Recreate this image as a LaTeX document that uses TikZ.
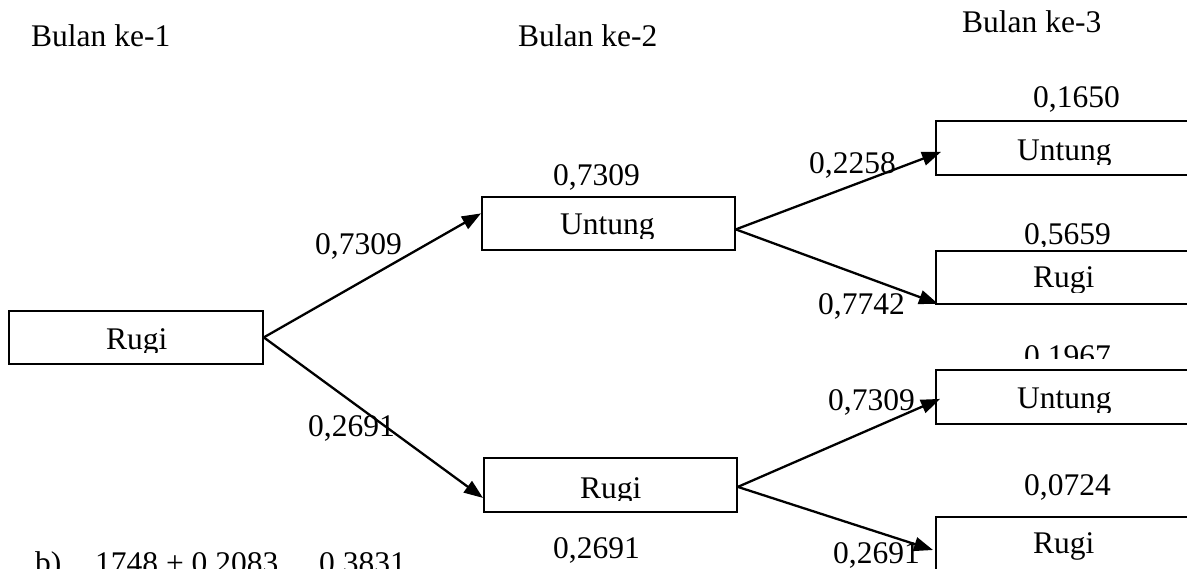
\documentclass[tikz,border=0pt]{standalone}
\usepackage{fontspec}
\setmainfont{Liberation Serif}
\usetikzlibrary{arrows.meta}
\begin{document}
\begin{tikzpicture}[x=1pt,y=-1pt,
  box/.style={draw, line width=1.8pt, inner sep=0pt, anchor=north west},
  txt/.style={anchor=base west, inner sep=0pt, font=\fontsize{31.5}{38}\selectfont},
  branch/.style={line width=2.3pt, -{Triangle[length=19pt,width=14pt]}}]
\path[use as bounding box] (0,0) rectangle (1187,569);
\clip (0,0) rectangle (1187,569);

% column headings
\node[txt] (h1) at (31,47) {Bulan ke-1};
\node[txt] (h2) at (518,47) {Bulan ke-2};
\node[txt] (h3) at (962,33) {Bulan ke-3};

% boxes of the tree
\node[box, minimum width=254pt, minimum height=53pt] (l)  at (8,310) {};
\node[box, minimum width=253pt, minimum height=53pt] (u2) at (481,196) {};
\node[box, minimum width=253pt, minimum height=54pt] (r2) at (483,457) {};
\node[box, minimum width=300pt, minimum height=54pt] (u3) at (935,120) {};
\node[box, minimum width=300pt, minimum height=53pt] (r3) at (935,250) {};
\node[box, minimum width=300pt, minimum height=54pt] (u4) at (935,369) {};
\node[box, minimum width=300pt, minimum height=60pt] (r4) at (935,516) {};

% box texts, cut off by the inner margin of each box
\begin{scope}
  \clip (l.north west) rectangle ([yshift=12pt]l.south east);
  \node[txt] (tl) at (106,350) {Rugi};
\end{scope}
\begin{scope}
  \clip (u2.north west) rectangle ([yshift=12pt]u2.south east);
  \node[txt] (tu2) at (560,235) {Untung};
\end{scope}
\begin{scope}
  \clip (r2.north west) rectangle ([yshift=12pt]r2.south east);
  \node[txt] (tr2) at (580,498) {Rugi};
\end{scope}
\begin{scope}
  \clip (u3.north west) rectangle ([yshift=11.5pt]u3.south east);
  \node[txt] (tu3) at (1017,161) {Untung};
\end{scope}
\begin{scope}
  \clip (r3.north west) rectangle ([yshift=12pt]r3.south east);
  \node[txt] (tr3) at (1033,288) {Rugi};
\end{scope}
\begin{scope}
  \clip (u4.north west) rectangle ([yshift=12pt]u4.south east);
  \node[txt] (tu4) at (1017,409) {Untung};
\end{scope}
\begin{scope}
  \clip (r4.north west) rectangle (1187,569);
  \node[txt] (tr4) at (1033,553) {Rugi};
\end{scope}

% probabilities written above or below the boxes
\node[txt] (pu2) at (553,186) {0,7309};
\node[txt] (pr2) at (553,558) {0,2691};
\node[txt] (pu3) at (1033,108) {0,1650};
\begin{scope}
  \clip (1000,200) rectangle (1187,247);
  \node[txt] (pr3) at (1024,245) {0,5659};
\end{scope}
\begin{scope}
  \clip (1000,330) rectangle (1187,359);
  \node[txt] (pu4) at (1024,367) {0,1967};
\end{scope}
\node[txt] (pr4) at (1024,495) {0,0724};

% branch probabilities
\node[txt] (a1) at (315,255) {0,7309};
\node[txt] (a2) at (308,436) {0,2691};
\node[txt] (a3) at (809,174) {0,2258};
\node[txt] (a4) at (818,315) {0,7742};
\node[txt] (a5) at (828,411) {0,7309};
\node[txt] (a6) at (833,563) {0,2691};

% branches
\draw[branch] (l.east) -- ([yshift=10pt]u2.west);
\draw[branch] (l.east) -- ([yshift=-13pt]r2.west);
\draw[branch] ([yshift=-6pt]u2.east) -- ([xshift=6pt,yshift=-4pt]u3.west);
\draw[branch] ([yshift=-6pt]u2.east) -- ([xshift=3pt,yshift=1pt]r3.south west);
\draw[branch] ([yshift=-2pt]r2.east) -- ([xshift=5pt,yshift=-2pt]u4.west);
\draw[branch] ([yshift=-2pt]r2.east) -- ([xshift=-2pt,yshift=-34pt]r4.north west);

% working line below the tree
\node[txt] (w1) at (35,573) {b)};
\node[txt] (w2) at (95,573) {1748 + 0,2083};
\node[txt] (w3) at (319,573) {0,3831};
\end{tikzpicture}
\end{document}
